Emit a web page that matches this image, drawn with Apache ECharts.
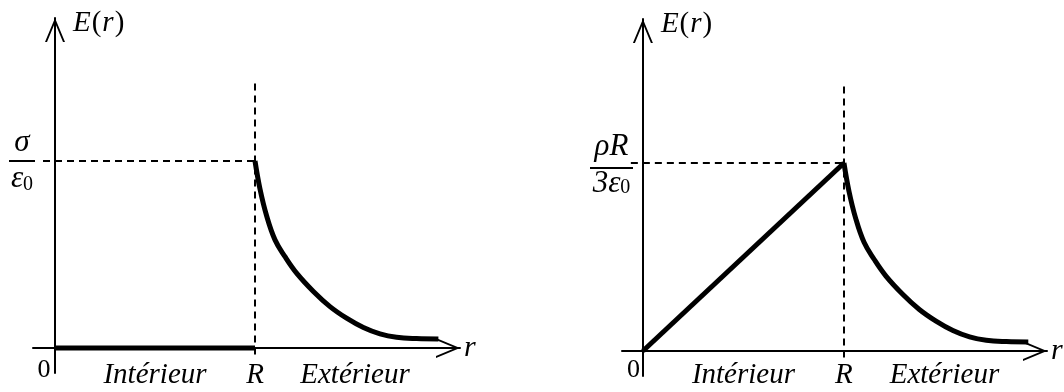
<!DOCTYPE html>
<html>
<head>
<meta charset="utf-8">
<script src="https://cdn.jsdelivr.net/npm/echarts@6/dist/echarts.min.js"></script>
<style>
  html, body { margin: 0; padding: 0; background: #fff; }
  #chart { width: 1064px; height: 392px; }
</style>
</head>
<body>
<div id="chart"></div>
<script>
// Field outside the sphere (r in units of R, E in units of E(R))
const rOutside = [1, 1.025, 1.058, 1.10, 1.15, 1.208, 1.292, 1.375, 1.458, 1.542, 1.625, 1.708, 1.808, 1.917];
const eOutside = [1, 0.85, 0.707, 0.578, 0.488, 0.40, 0.302, 0.221, 0.159, 0.109, 0.075, 0.057, 0.050, 0.048];

// Field inside: zero for a charged surface, linear for a charged volume
const rInside = [0, 1];
const eInsideSurface = [0, 0];
const eInsideVolume = [0, 1];

// Horizontal-axis labels
const tickValues = [0, 0.5, 1, 1.5];
const tickLabels = ['0', 'Intérieur', 'R', 'Extérieur'];

// Guides at r = R and E = E(R)
const guideHorizontal = [-0.06, 1];   // r from .. to, at E = 1
const guideVertical = [-0.035, 1.417]; // E from .. to, at r = 1

const SERIF = '"Liberation Serif", "Times New Roman", serif';
// open arrow head, tip at the top of its box
const ARROW = 'path://M10,0 L20,24 L18,24 L10,4.8 L2,24 L0,24 Z';

function zip(xs, ys) { return xs.map((x, i) => [x, ys[i]]); }

function axisLine() {
  return {
    onZero: true,
    lineStyle: { color: '#000', width: 2 },
    symbol: ['none', ARROW],
    symbolSize: [20, 24],
    symbolOffset: [0, -12]
  };
}

function makePanel(idx, cfg) {
  const grid = {
    left: cfg.left, top: cfg.top, width: cfg.width, height: cfg.height,
    containLabel: false, outerBoundsMode: 'none'
  };
  const xAxis = {
    gridIndex: idx, type: 'value', min: cfg.xMin, max: cfg.xMax,
    axisLine: axisLine(), axisTick: { show: false }, splitLine: { show: false },
    name: '{r|r}', nameLocation: 'end', nameGap: 4,
    nameTextStyle: {
      rich: { r: { fontFamily: SERIF, fontStyle: 'italic', fontSize: 30, color: '#000' } },
      verticalAlign: 'middle', align: 'left'
    },
    axisLabel: {
      customValues: tickValues,
      margin: cfg.labelMargin,
      formatter: function (v) {
        const i = tickValues.indexOf(v);
        return i === 0 ? '{zero|' + tickLabels[i] + '}' : '{it|' + tickLabels[i] + '}';
      },
      rich: {
        zero: { fontFamily: SERIF, fontSize: 26, color: '#000', lineHeight: 19, padding: [0, cfg.zeroShift, 0, 0] },
        it: { fontFamily: SERIF, fontStyle: 'italic', fontSize: 29, lineHeight: 29, color: '#000' }
      }
    }
  };
  const yAxis = {
    gridIndex: idx, type: 'value', min: cfg.yMin, max: cfg.yMax,
    axisLine: axisLine(), axisTick: { show: false }, splitLine: { show: false },
    name: '{e|E}{p|(}{r|r}{p|)}', nameLocation: 'end', nameGap: -5,
    nameTextStyle: {
      align: 'left', verticalAlign: 'middle', padding: [0, 0, 0, 18],
      rich: {
        e: { fontFamily: SERIF, fontStyle: 'italic', fontSize: 29, color: '#000' },
        r: { fontFamily: SERIF, fontStyle: 'italic', fontSize: 29, color: '#000' },
        p: { fontFamily: SERIF, fontSize: 29, color: '#000', padding: [0, 1] }
      }
    },
    axisLabel: {
      customValues: [1],
      margin: cfg.fracMargin,
      formatter: function () {
        return '{num|' + cfg.num + '}\n{bar|}\n{den|' + cfg.den + '}{sub|0}';
      },
      rich: {
        num: { fontFamily: SERIF, fontStyle: 'italic', fontSize: 31, color: '#000', lineHeight: cfg.numLH, align: 'center' },
        bar: { width: cfg.barWidth, height: 2, lineHeight: 4, backgroundColor: '#000', align: 'center' },
        den: { fontFamily: SERIF, fontStyle: 'italic', fontSize: 31, color: '#000', lineHeight: cfg.denLH, align: 'center' },
        sub: { fontFamily: SERIF, fontSize: 20, color: '#000', lineHeight: 18, verticalAlign: 'bottom', align: 'center' }
      }
    }
  };
  const series = [
    {
      type: 'line', xAxisIndex: idx, yAxisIndex: idx, data: [], z: 1, silent: true,
      markLine: {
        silent: true, symbol: 'none', animation: false,
        label: { show: false },
        lineStyle: { color: '#000', width: 2, type: [7, 5] },
        data: [
          [{ coord: [guideHorizontal[0], 1] }, { coord: [guideHorizontal[1], 1] }],
          [{ coord: [1, guideVertical[0]] }, { coord: [1, guideVertical[1]] }]
        ]
      }
    },
    {
      type: 'line', xAxisIndex: idx, yAxisIndex: idx, z: 3, showSymbol: false, symbol: 'none',
      data: zip(rInside, cfg.eInside),
      lineStyle: { color: '#000', width: 5 }
    },
    {
      type: 'line', xAxisIndex: idx, yAxisIndex: idx, z: 3, showSymbol: false, symbol: 'none',
      smooth: 0.4,
      data: zip(rOutside, eOutside),
      lineStyle: { color: '#000', width: 5 }
    }
  ];
  return { grid, xAxis, yAxis, series };
}

// labels sit relative to the grid edge, so margins are measured from there
const left = makePanel(0, {
  left: 33, top: 18, width: 427, height: 355,
  xMin: -0.11, xMax: 2.025, yMin: -0.134, yMax: 1.765,
  labelMargin: -12, zeroShift: 22, fracMargin: -2, barWidth: 26,
  num: 'σ', den: 'ε', numLH: 32, denLH: 32,
  eInside: eInsideSurface
});
const right = makePanel(1, {
  left: 622, top: 19, width: 425, height: 357,
  xMin: -0.104, xMax: 2.01, yMin: -0.133, yMax: 1.766,
  labelMargin: -15, zeroShift: 19, fracMargin: -11, barWidth: 43,
  num: 'ρR', den: '3ε', numLH: 38, denLH: 28,
  eInside: eInsideVolume
});

const chart = echarts.init(document.getElementById('chart'), null, { renderer: 'canvas' });
chart.setOption({
  animation: false,
  backgroundColor: '#fff',
  grid: [left.grid, right.grid],
  xAxis: [left.xAxis, right.xAxis],
  yAxis: [left.yAxis, right.yAxis],
  series: left.series.concat(right.series)
});
</script>
</body>
</html>
